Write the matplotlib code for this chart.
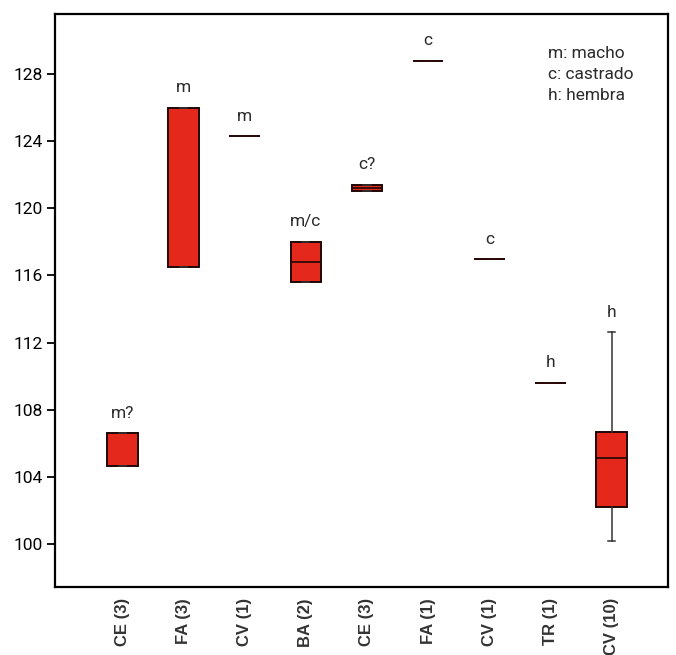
import matplotlib
matplotlib.use("Agg")
import matplotlib.pyplot as plt

# Groups (site and sample size) with their box statistics
categories = ["CE (3)", "FA (3)", "CV (1)", "BA (2)", "CE (3)", "FA (1)", "CV (1)", "TR (1)", "CV (10)"]
whislo = [104.65, 116.5, 124.3, 115.6, 121.0, 128.8, 116.95, 109.6, 100.2]
q1 = [104.65, 116.5, 124.3, 115.6, 121.0, 128.8, 116.95, 109.6, 102.2]
med = [105.6, 121.2, 124.3, 116.8, 121.2, 128.8, 116.95, 109.6, 105.1]
q3 = [106.6, 126.0, 124.3, 118.0, 121.4, 128.8, 116.95, 109.6, 106.7]
whishi = [106.6, 126.0, 124.3, 118.0, 121.4, 128.8, 116.95, 109.6, 112.6]
show_median = [False, False, True, True, True, True, True, True, True]
sex = ["m?", "m", "m", "m/c", "c?", "c", "c", "h", "h"]
yticks = [100, 104, 108, 112, 116, 120, 124, 128]
key_text = "m: macho\nc: castrado\nh: hembra"

fig = plt.figure(figsize=(6.76, 6.55), dpi=100)
ax = fig.add_axes([0.0814, 0.1038, 0.9066, 0.8748])

stats = []
for i in range(len(categories)):
    stats.append(dict(whislo=whislo[i], q1=q1[i], med=med[i], q3=q3[i],
                      whishi=whishi[i], fliers=[], label=categories[i]))

positions = list(range(1, len(categories) + 1))
parts = ax.bxp(stats, positions=positions, widths=0.5, patch_artist=True,
               showfliers=False,
               boxprops=dict(facecolor="#e5281c", edgecolor="#1e0806", linewidth=1.4),
               medianprops=dict(color="#2a0a06", linewidth=1.3),
               whiskerprops=dict(color="#333333", linewidth=1.1),
               capprops=dict(color="#333333", linewidth=1.1),
               capwidths=0.12)
for line, shown in zip(parts["medians"], show_median):
    line.set_visible(shown)

# sex annotations above each group
for x, top, s in zip(positions, whishi, sex):
    ax.annotate(s, (x, top), xytext=(0, 9), textcoords="offset points",
                ha="center", va="bottom", fontsize=12.5, color="#2b2b2b",
                family=["Roboto", "DejaVu Sans"])

ax.text(0.804, 0.945, key_text, transform=ax.transAxes, ha="left", va="top",
        fontsize=12.5, color="#2b2b2b", linespacing=1.5,
        family=["Roboto", "DejaVu Sans"])

ax.set_xlim(-0.1, 9.92)
ax.set_ylim(97.44, 131.57)
ax.set_yticks(yticks)
ax.set_yticklabels([str(v) for v in yticks], family=["Roboto", "DejaVu Sans"], fontsize=12.5)
ax.set_xticks(positions)
ax.set_xticklabels(categories, rotation=90, family=["Liberation Sans", "DejaVu Sans"],
                   fontsize=12, fontweight="bold", color="#333333")
ax.tick_params(axis="x", length=0, pad=8)
ax.tick_params(axis="y", length=6, width=1.3, pad=3, direction="out")

for sp in ax.spines.values():
    sp.set_linewidth(1.6)
    sp.set_color("black")

fig.savefig("out.png", dpi=100, facecolor="white")
